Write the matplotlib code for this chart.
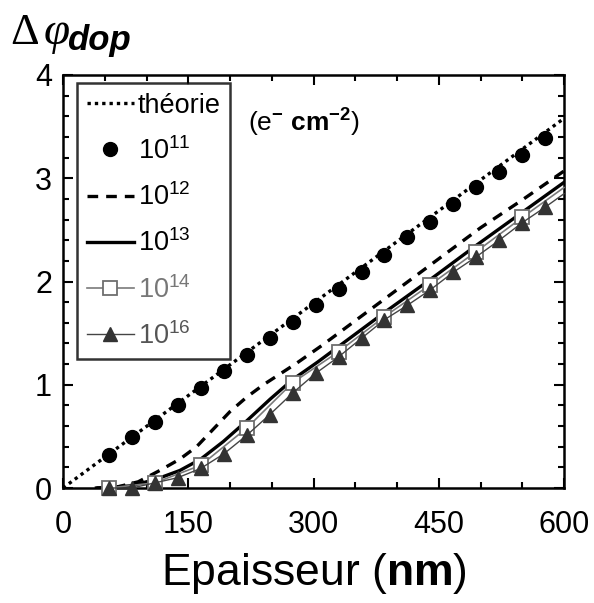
import matplotlib
matplotlib.use("Agg")
import matplotlib.pyplot as plt
from matplotlib.ticker import MultipleLocator

plt.rcParams['font.family'] = ['Liberation Sans', 'DejaVu Sans']
plt.rcParams['mathtext.fontset'] = 'custom'
plt.rcParams['mathtext.rm'] = 'Liberation Sans'
plt.rcParams['mathtext.bf'] = 'Liberation Sans:bold'
plt.rcParams['mathtext.it'] = 'Liberation Sans:italic'
plt.rcParams['mathtext.default'] = 'regular'

# --- donnees ---
theorie_x = [0, 600]
theorie_y = [0, 3.58]

x_pts = [55, 82.5, 110, 137.5, 165, 192.5, 220, 247.5, 275, 302.5,
         330, 357.5, 385, 412.5, 440, 467.5, 495, 522.5, 550, 577.5]
y_e11 = [0.32, 0.49, 0.64, 0.80, 0.97, 1.13, 1.29, 1.45, 1.61, 1.77,
         1.93, 2.09, 2.26, 2.43, 2.58, 2.75, 2.92, 3.06, 3.23, 3.39]

x_e12 = [40, 60, 90, 116, 140, 160, 180, 200, 220, 240, 280, 310, 360, 430, 500, 550, 600]
y_e12 = [0.0, 0.0, 0.06, 0.17, 0.28, 0.40, 0.57, 0.74, 0.88, 1.0, 1.21, 1.38, 1.68, 2.10, 2.52, 2.79, 3.07]

x_e13 = [40, 80, 110, 140, 165, 192, 220, 248, 275, 305, 330, 385, 440, 495, 550, 600]
y_e13 = [0.0, 0.02, 0.08, 0.17, 0.28, 0.45, 0.65, 0.86, 1.05, 1.22, 1.37, 1.70, 2.02, 2.35, 2.67, 2.96]

x_e14 = [55, 110, 165, 220, 275, 330, 385, 440, 495, 550, 600]
y_e14 = [0.0, 0.05, 0.22, 0.58, 1.02, 1.32, 1.66, 1.97, 2.29, 2.62, 2.91]

x_e16 = x_pts + [600]
y_e16 = [0.0, 0.0, 0.05, 0.10, 0.19, 0.33, 0.51, 0.71, 0.92, 1.11,
         1.27, 1.45, 1.63, 1.77, 1.92, 2.09, 2.24, 2.40, 2.57, 2.72, 2.85]

fig = plt.figure(figsize=(5.94, 6.03), dpi=100)
ax = fig.add_axes([63/594, 1 - 488/603, (564 - 63)/594, (488 - 75)/603])

ax.plot(x_e14, y_e14, color='#7a7a7a', lw=1.2, marker='s', ms=10,
        mfc='white', mec='#6e6e6e', mew=1.3, markevery=slice(0, -1),
        clip_on=False, label='10$^{14}$', zorder=3)
ax.plot(x_e16, y_e16, color='#444444', lw=1.0, marker='^', ms=10,
        mfc='#333333', mec='#333333', markevery=slice(0, -1),
        clip_on=False, label='10$^{16}$', zorder=4)
ax.plot(x_e13, y_e13, color='black', lw=2.4, label='10$^{13}$', zorder=2)
ax.plot(x_e12, y_e12, color='black', lw=2.4, ls=(0, (3.2, 2.4)), label='10$^{12}$', zorder=2)
ax.plot(x_pts, y_e11, ls='none', marker='o', ms=10, color='black',
        label='10$^{11}$', zorder=3)
ax.plot(theorie_x, theorie_y, color='black', lw=2.4, ls=(0, (1, 1.2)),
        label='théorie', zorder=5)

ax.set_xlim(0, 600)
ax.set_ylim(0, 4)
ax.xaxis.set_major_locator(MultipleLocator(150))
ax.xaxis.set_minor_locator(MultipleLocator(50))
ax.yaxis.set_major_locator(MultipleLocator(1))
ax.yaxis.set_minor_locator(MultipleLocator(0.2))
ax.tick_params(which='both', direction='in', top=True, right=True,
               width=1.5, labelsize=22)
ax.tick_params(axis='x', pad=16)
ax.tick_params(axis='y', pad=8)
ax.tick_params(which='major', length=7)
ax.tick_params(which='minor', length=4.5)
for s in ax.spines.values():
    s.set_linewidth(1.8)

ax.set_xlabel('Epaisseur ($\\mathbf{nm}$)', fontsize=32, labelpad=8)

handles, labels = ax.get_legend_handles_labels()
order = [5, 4, 3, 2, 0, 1]
leg = ax.legend([handles[i] for i in order], [labels[i] for i in order],
                loc='upper left', bbox_to_anchor=(0.028, 0.98),
                fontsize=19.5, frameon=True, fancybox=False,
                edgecolor='black', handlelength=1.75, handletextpad=0.15,
                labelspacing=0.68, borderpad=0.35, borderaxespad=0)
leg.get_frame().set_linewidth(1.8)
txt_colors = ['black', 'black', 'black', 'black', '#777777', '#555555']
for t, c in zip(leg.get_texts(), txt_colors):
    t.set_color(c)

ax.text(222, 3.54, '(e$^{\\mathbf{-}}$ $\\mathbf{cm}^{\\mathbf{-2}}$)',
        fontsize=19, va='center', ha='left')

# label de l'axe y en haut a gauche
fig.text(10/594, 1 - 44/603, 'Δ', family='Liberation Serif', fontsize=32, va='baseline')
fig.text(44/594, 1 - 44/603, 'φ', family='Liberation Serif', style='italic',
         fontsize=34, va='baseline')
fig.text(67/594, 1 - 50/603, 'dop', fontsize=25, weight='bold', style='italic',
         va='baseline')

fig.savefig('out.png', dpi=100)
